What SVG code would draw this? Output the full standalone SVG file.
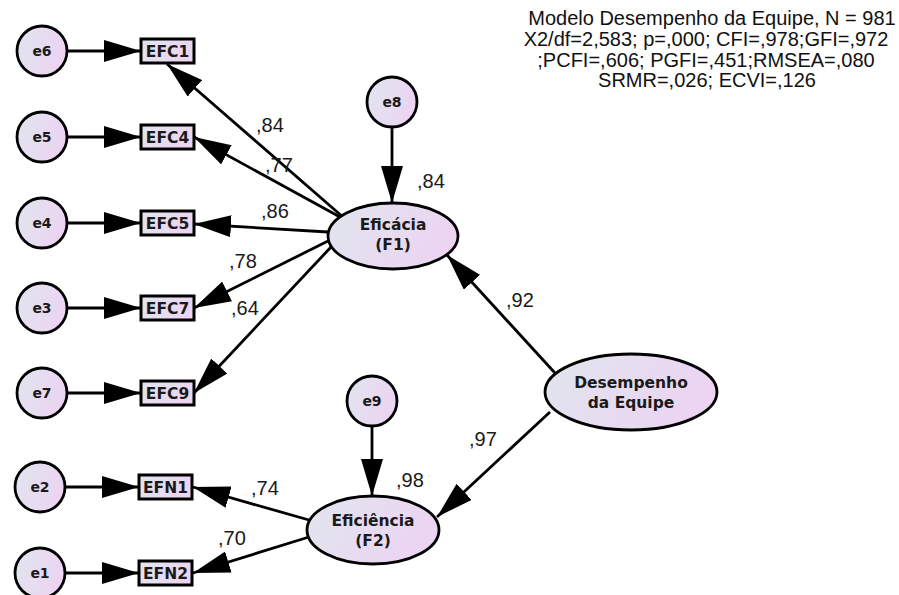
<svg xmlns="http://www.w3.org/2000/svg" width="899" height="595" viewBox="0 0 899 595">
<defs>
<linearGradient id="g" x1="0" y1="0" x2="1" y2="0.3">
<stop offset="0" stop-color="#e0e6ee"/>
<stop offset="1" stop-color="#ecd4f2"/>
</linearGradient>
<marker id="ah" viewBox="0 0 37 22" markerWidth="37" markerHeight="22" refX="37" refY="11" orient="auto" markerUnits="userSpaceOnUse">
<path d="M0,0 L37,11 L0,22 Z" fill="#000"/>
</marker>
<style>
.n{fill:url(#g);stroke:#000;stroke-width:2.8}
.b{fill:url(#g);stroke:#000;stroke-width:3}
.t{font-family:"DejaVu Sans",Verdana,sans-serif;font-weight:bold;fill:#1a1a1a;text-anchor:middle}
.ts{font-size:14px}
.tm{font-size:15.5px}
.c line{stroke:#000;stroke-width:2.8;marker-end:url(#ah)}
.l{font-family:"Liberation Sans",Arial,sans-serif;font-size:20px;fill:#1a1a1a}
.h{font-family:"Liberation Sans",Arial,sans-serif;font-size:20px;fill:#111;text-anchor:middle}
</style>
</defs>
<rect width="899" height="595" fill="#fff"/>

<g id="title">
<text class="h" x="712" y="25">Modelo Desempenho da Equipe, N = 981</text>
<text class="h" x="706" y="46">X2/df=2,583; p=,000; CFI=,978;GFI=,972</text>
<text class="h" x="706" y="67">;PCFI=,606; PGFI=,451;RMSEA=,080</text>
<text class="h" x="707" y="87">SRMR=,026; ECVI=,126</text>
</g>

<g id="connectors" class="c">
<line x1="67" y1="51" x2="141" y2="51"/>
<line x1="67" y1="137" x2="141" y2="137"/>
<line x1="67" y1="223" x2="141" y2="223"/>
<line x1="67" y1="308" x2="141" y2="308"/>
<line x1="67" y1="393" x2="141" y2="393"/>
<line x1="65" y1="487" x2="139" y2="487"/>
<line x1="65" y1="573" x2="139" y2="573"/>
<line x1="341.5" y1="215.7" x2="167" y2="64"/>
<line x1="340" y1="217" x2="194" y2="137"/>
<line x1="328" y1="232" x2="194" y2="224"/>
<line x1="328" y1="241" x2="194" y2="308"/>
<line x1="331.5" y1="246.5" x2="194" y2="393"/>
<line x1="392" y1="127" x2="392" y2="203"/>
<line x1="555" y1="373" x2="447" y2="255"/>
<line x1="550" y1="412" x2="437" y2="517"/>
<line x1="372" y1="426" x2="372" y2="496"/>
<line x1="309" y1="520" x2="193" y2="487"/>
<line x1="309" y1="537" x2="193" y2="573"/>
</g>

<g id="loadings" class="l">
<text x="256" y="132">,84</text>
<text x="265" y="172">,77</text>
<text x="261" y="218">,86</text>
<text x="229" y="268">,78</text>
<text x="231" y="315">,64</text>
<text x="417" y="188">,84</text>
<text x="506" y="307">,92</text>
<text x="469" y="446">,97</text>
<text x="396" y="487">,98</text>
<text x="251" y="495">,74</text>
<text x="218" y="545">,70</text>
</g>

<g id="e6"><circle class="n" cx="42" cy="51" r="25"/><text class="t ts" x="42" y="56">e6</text></g>
<g id="e5"><circle class="n" cx="42" cy="137" r="25"/><text class="t ts" x="42" y="142">e5</text></g>
<g id="e4"><circle class="n" cx="42" cy="223" r="25"/><text class="t ts" x="42" y="228">e4</text></g>
<g id="e3"><circle class="n" cx="42" cy="308" r="25"/><text class="t ts" x="42" y="313">e3</text></g>
<g id="e7"><circle class="n" cx="42" cy="393" r="25"/><text class="t ts" x="42" y="398">e7</text></g>
<g id="e2"><circle class="n" cx="40" cy="487" r="25"/><text class="t ts" x="40" y="492">e2</text></g>
<g id="e1"><circle class="n" cx="40" cy="573" r="25"/><text class="t ts" x="40" y="578">e1</text></g>
<g id="e8"><circle class="n" cx="392" cy="102" r="25"/><text class="t ts" x="392" y="107">e8</text></g>
<g id="e9"><circle class="n" cx="372" cy="401" r="25"/><text class="t ts" x="372" y="406">e9</text></g>

<g id="EFC1"><rect class="b" x="141" y="39" width="53" height="24"/><text class="t tm" x="167.5" y="57">EFC1</text></g>
<g id="EFC4"><rect class="b" x="141" y="125" width="53" height="24"/><text class="t tm" x="167.5" y="143">EFC4</text></g>
<g id="EFC5"><rect class="b" x="141" y="211" width="53" height="24"/><text class="t tm" x="167.5" y="229">EFC5</text></g>
<g id="EFC7"><rect class="b" x="141" y="296" width="53" height="24"/><text class="t tm" x="167.5" y="314">EFC7</text></g>
<g id="EFC9"><rect class="b" x="141" y="381" width="53" height="24"/><text class="t tm" x="167.5" y="399">EFC9</text></g>
<g id="EFN1"><rect class="b" x="139" y="475" width="53" height="24"/><text class="t tm" x="165.5" y="493">EFN1</text></g>
<g id="EFN2"><rect class="b" x="139" y="561" width="53" height="24"/><text class="t tm" x="165.5" y="579">EFN2</text></g>

<g id="F1"><ellipse class="n" cx="393" cy="236" rx="65" ry="33"/><text class="t tm" x="393" y="230">Eficácia</text><text class="t tm" x="393" y="250">(F1)</text></g>
<g id="F2"><ellipse class="n" cx="373" cy="530" rx="66" ry="34"/><text class="t tm" x="373" y="526">Eficiência</text><text class="t tm" x="373" y="546">(F2)</text></g>
<g id="DE"><ellipse class="n" cx="631" cy="392" rx="86" ry="38"/><text class="t tm" x="631" y="388">Desempenho</text><text class="t tm" x="631" y="408">da Equipe</text></g>
</svg>
